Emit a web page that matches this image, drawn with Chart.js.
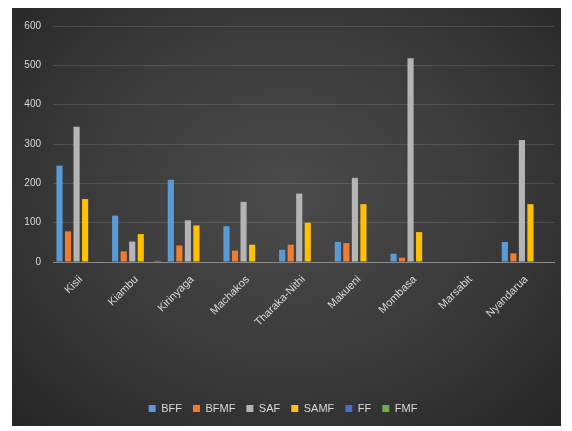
<!DOCTYPE html>
<html>
<head>
<meta charset="utf-8">
<script src="https://cdn.jsdelivr.net/npm/chart.js@4.4.1/dist/chart.umd.min.js"></script>
<style>
    html, body { margin: 0; padding: 0; background: #ffffff; }
    #box {
        position: absolute; left: 12px; top: 8px; width: 549px; height: 418px;
        background: radial-gradient(ellipse at 50% 45%, #4b4b4b 0%, #3a3a3a 55%, #262626 100%);
    }
</style>
</head>
<body>
<div id="box"><canvas id="chart" width="549" height="418"></canvas></div>
<script>
// categories and series
const districts = ["Kisii", "Kiambu", "Kirinyaga", "Machakos", "Tharaka-Nithi", "Makueni", "Mombasa", "Marsabit", "Nyandarua"];
const bff  = [245, 118, 209, 91, 31, 51, 21, 0, 51];
const bfmf = [78, 27, 42, 29, 44, 48, 11, 0, 22];
const saf  = [344, 52, 106, 153, 174, 214, 518, 0, 310];
const samf = [160, 71, 93, 44, 100, 147, 76, 0, 147];
const ff   = [0, 0, 0, 0, 0, 0, 0, 0, 0];
const fmf  = [0, 3, 0, 0, 0, 0, 0, 0, 0];
const yTicks = [0, 100, 200, 300, 400, 500, 600];

const textColor = '#d9d9d9';
const font = { family: 'Liberation Sans', size: 10 };
const bigFont = { family: 'Liberation Sans', size: 11 };

function series(label, data, color) {
    return { label: label, data: data, backgroundColor: color, borderWidth: 0,
             categoryPercentage: 0.92, barPercentage: 0.72 };
}

const ctx = document.getElementById('chart').getContext('2d');
const chart = new Chart(ctx, {
    type: 'bar',
    data: {
        labels: districts,
        datasets: [
            series('BFF', bff, '#5b9bd5'),
            series('BFMF', bfmf, '#ed7d31'),
            series('SAF', saf, '#b4b4b4'),
            series('SAMF', samf, '#ffc000'),
            series('FF', ff, '#4472c4'),
            series('FMF', fmf, '#70ad47')
        ]
    },
    options: {
        responsive: false,
        animation: false,
        layout: { padding: { left: 0, right: 7, top: 16, bottom: 2 } },
        plugins: {
            tooltip: { enabled: false },
            legend: {
                position: 'bottom',
                labels: { color: textColor, font: bigFont, boxWidth: 7, boxHeight: 7, padding: 11 }
            }
        },
        scales: {
            x: {
                grid: { display: false },
                border: { color: '#8c8c8c', width: 1 },
                ticks: { color: textColor, font: bigFont, maxRotation: 45, minRotation: 45, autoSkip: false },
                afterFit: function (scale) { scale.height = 130; }
            },
            y: {
                min: 0, max: 600,
                afterBuildTicks: function (scale) { scale.ticks = yTicks.map(v => ({ value: v })); },
                grid: { color: 'rgba(255,255,255,0.12)', drawTicks: false },
                border: { display: false },
                ticks: { color: textColor, font: font, padding: 12 },
                afterFit: function (scale) { scale.width = 41; }
            }
        }
    }
});
</script>
</body>
</html>
